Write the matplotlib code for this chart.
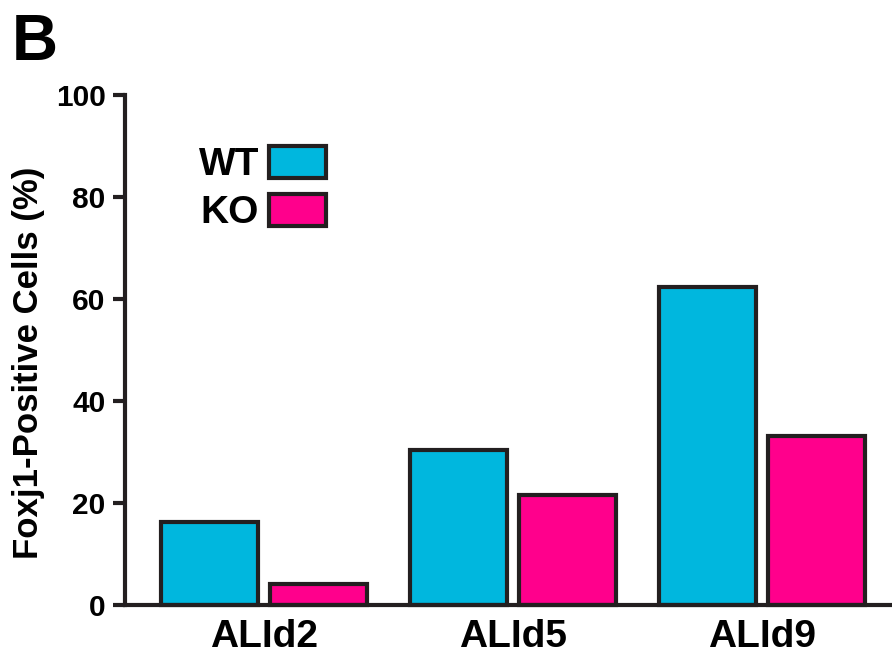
import matplotlib

matplotlib.use("Agg")
import matplotlib.pyplot as plt  # noqa: E402
import numpy as np

# values
groups = ["ALId2", "ALId5", "ALId9"]
wt_values = [16.2, 30.3, 62.4]
ko_values = [4.2, 21.6, 33.2]
series_names = ["WT", "KO"]
yticks = [0, 20, 40, 60, 80, 100]

WT_COLOR = "#00B7DE"
KO_COLOR = "#FF008C"
EDGE = "#231F20"

plt.rcParams["font.family"] = ["Liberation Sans", "DejaVu Sans"]
plt.rcParams["font.weight"] = "bold"

fig = plt.figure(figsize=(8.92, 6.58), dpi=100)
ax = fig.add_axes([125 / 892, 53 / 658, 767 / 892, 510 / 658])

x = np.arange(len(groups))
width = 0.39
offset = 0.22
ax.bar(x - offset, wt_values, width, color=WT_COLOR, edgecolor=EDGE,
       linewidth=3, label=series_names[0], clip_on=False, zorder=3)
ax.bar(x + offset, ko_values, width, color=KO_COLOR, edgecolor=EDGE,
       linewidth=3, label=series_names[1], clip_on=False, zorder=3)

ax.set_xlim(-0.558, 2.522)
ax.set_ylim(0, 100)
ax.set_yticks(yticks)
ax.set_xticks(x)
ax.set_xticklabels(groups, fontsize=28, fontweight="bold")
ax.tick_params(axis="x", length=0, pad=10)
ax.tick_params(axis="y", length=9, width=3, direction="out", pad=5,
               labelsize=21.5, color=EDGE)
for lbl in ax.get_yticklabels():
    lbl.set_fontweight("bold")

for side in ("top", "right"):
    ax.spines[side].set_visible(False)
for side in ("left", "bottom"):
    ax.spines[side].set_linewidth(3)
    ax.spines[side].set_color(EDGE)
    ax.spines[side].set_zorder(4)

ax.set_ylabel("Foxj1-Positive Cells (%)", fontsize=25, fontweight="bold")
ax.yaxis.set_label_coords(-0.104, 0.475)

leg = ax.legend(loc="upper left", bbox_to_anchor=(0.096, 0.9),
                frameon=False, markerfirst=False, fontsize=28,
                handlelength=1.47, handleheight=0.87, handletextpad=0.26,
                labelspacing=0.28, borderpad=0, borderaxespad=0)
for t in leg.get_texts():
    t.set_fontweight("bold")

fig.text(12 / 892, 1 - 60 / 658, "B", fontsize=46, fontweight="bold")

fig.savefig("out.png", dpi=100)
